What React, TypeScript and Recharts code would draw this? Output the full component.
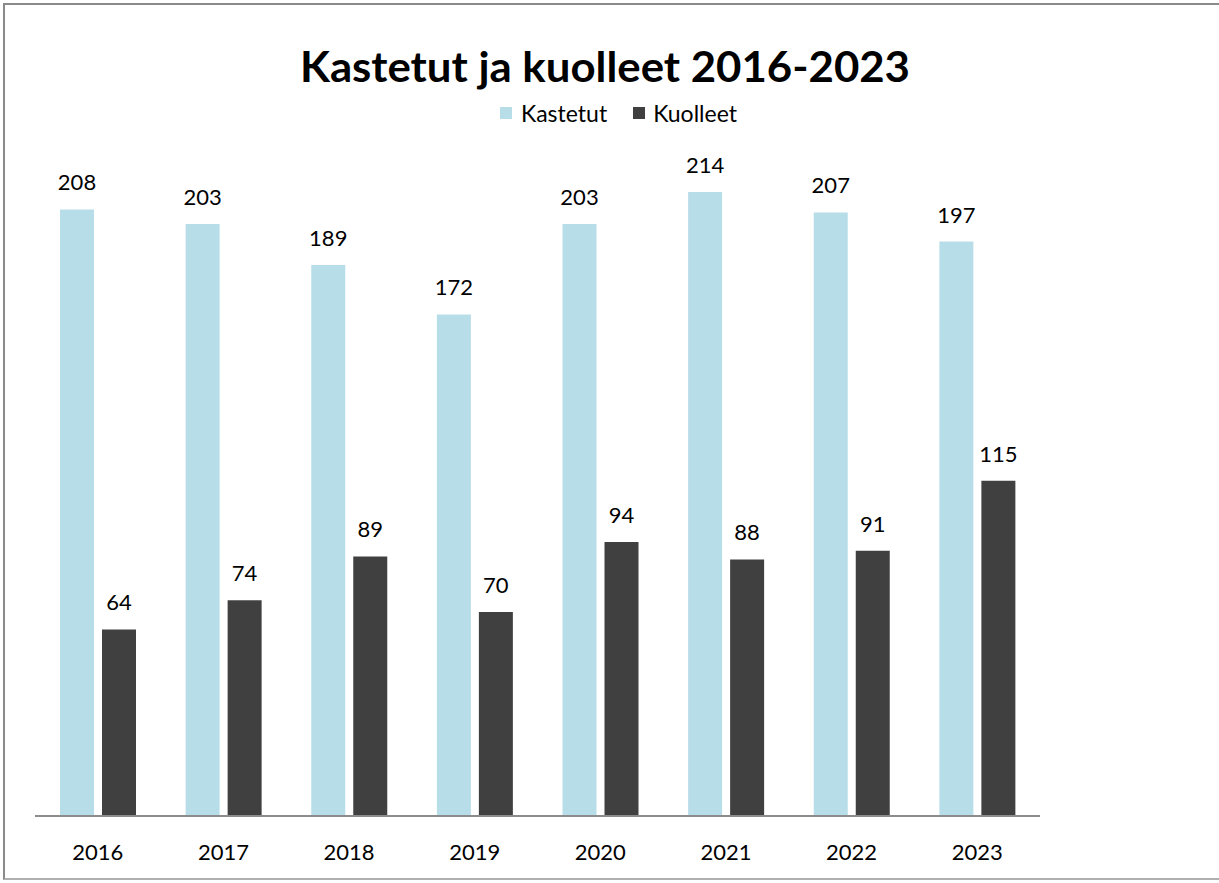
import React from 'react';
import { BarChart, Bar, XAxis, YAxis, LabelList } from 'recharts';

const years = ['2016', '2017', '2018', '2019', '2020', '2021', '2022', '2023'];
const kastetut = [208, 203, 189, 172, 203, 214, 207, 197];
const kuolleet = [64, 74, 89, 70, 94, 88, 91, 115];

const data = years.map((y, i) => ({ year: y, Kastetut: kastetut[i], Kuolleet: kuolleet[i] }));

const FONT = 'Lato, "Open Sans", sans-serif';
const BLUE = '#B7DDE8';
const DARK = '#404040';

export default function App() {
  return (
    <div style={{ position: 'absolute', left: 0, top: 0, width: 1219, height: 883, background: '#fff' }}>
      <div style={{ position: 'absolute', left: 3, top: 3, width: 1216, height: 877, borderTop: '2px solid #8a8a8a', borderLeft: '2px solid #8a8a8a', borderBottom: '2px solid #b0b0b0', boxSizing: 'border-box' }} />
      <div style={{ position: 'absolute', top: 99, left: 0, width: 1219, display: 'flex', justifyContent: 'center', alignItems: 'center', fontFamily: FONT, fontSize: 23, color: '#000', paddingLeft: 18, boxSizing: 'border-box' }}>
        <span style={{ display: 'inline-block', width: 12, height: 12, background: BLUE, marginRight: 9 }} />
        <span style={{ marginRight: 26 }}>Kastetut</span>
        <span style={{ display: 'inline-block', width: 12, height: 12, background: DARK, marginRight: 8 }} />
        <span>Kuolleet</span>
      </div>
      <BarChart width={1219} height={883} data={data} margin={{ top: 87, right: 179, bottom: 27, left: 35 }} barSize={34} barGap={8} style={{ position: 'absolute', left: 0, top: 0 }}>
        <text x={605} y={82} textAnchor="middle" textLength={610} lengthAdjust="spacingAndGlyphs" style={{ fontFamily: FONT, fontWeight: 700, fontSize: 42, fill: '#000' }}>
          Kastetut ja kuolleet 2016-2023
        </text>
        <XAxis dataKey="year" axisLine={{ stroke: '#8c8c8c', strokeWidth: 2 }} tickLine={false} tickSize={0} tickMargin={28} height={40} tick={{ fontFamily: FONT, fontSize: 22, fill: '#000' }} />
        <YAxis hide domain={[0, 250]} />
        <Bar dataKey="Kastetut" fill={BLUE} isAnimationActive={false}>
          <LabelList dataKey="Kastetut" position="top" offset={19} style={{ fontFamily: FONT, fontSize: 22, fill: '#000' }} />
        </Bar>
        <Bar dataKey="Kuolleet" fill={DARK} isAnimationActive={false}>
          <LabelList dataKey="Kuolleet" position="top" offset={19} style={{ fontFamily: FONT, fontSize: 22, fill: '#000' }} />
        </Bar>
      </BarChart>
    </div>
  );
}
